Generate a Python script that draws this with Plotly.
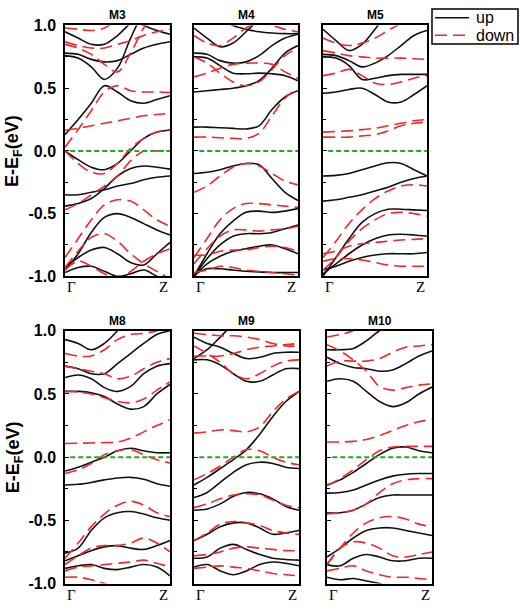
import plotly.graph_objects as go

# ---------------- data (energies in eV, sampled along Γ -> Z) ----------------
K_POINTS = [0, 0.125, 0.25, 0.375, 0.5, 0.625, 0.75, 0.875, 1.0]
PANEL_NAMES = ["M3", "M4", "M5", "M8", "M9", "M10"]
Y_TICKS = [1.0, 0.5, 0.0, -0.5, -1.0]
Y_TICK_TEXT = ["1.0", "0.5", "0.0", "-0.5", "-1.0"]
K_LABELS = ["Γ", "Z"]
LEGEND_NAMES = ["up", "down"]

M3_UP = [
    [0.13, 0.25, 0.38, 0.52, 0.47, 0.40, 0.38, 0.41, 0.44],
    [0.76, 0.74, 0.67, 0.57, 0.66, 0.90, 1.10, 1.20, 1.30],
    [0.78, 0.77, 0.73, 0.71, 0.72, 0.77, 0.82, 0.85, 0.87],
    [0.95, 0.90, 0.85, 0.85, 0.92, 1.02, 1.10, 1.10, 1.10],
    [1.20, 1.20, 1.20, 1.15, 1.10, 1.05, 1.00, 0.96, 0.93],
    [0.00, -0.07, -0.13, -0.15, -0.10, 0.00, 0.10, 0.15, 0.165],
    [-0.35, -0.35, -0.33, -0.31, -0.28, -0.26, -0.23, -0.21, -0.20],
    [-0.44, -0.42, -0.38, -0.30, -0.20, -0.14, -0.12, -0.13, -0.145],
    [-0.95, -0.82, -0.65, -0.53, -0.50, -0.53, -0.58, -0.63, -0.67],
    [-0.93, -0.85, -0.79, -0.77, -0.82, -0.89, -0.91, -0.82, -0.73],
    [-0.97, -0.93, -0.92, -0.96, -1.00, -0.98, -0.95, -1.00, -1.05],
]
M3_DOWN = [
    [0.165, 0.18, 0.20, 0.22, 0.24, 0.26, 0.28, 0.29, 0.30],
    [0.03, 0.17, 0.32, 0.47, 0.52, 0.48, 0.47, 0.47, 0.465],
    [0.85, 0.82, 0.77, 0.69, 0.63, 0.78, 0.98, 1.10, 1.20],
    [0.87, 0.84, 0.82, 0.82, 0.85, 0.88, 0.92, 0.95, 0.97],
    [0.98, 0.97, 0.96, 0.98, 1.05, 1.10, 1.10, 1.10, 1.10],
    [0.00, -0.10, -0.17, -0.18, -0.10, 0.02, 0.10, 0.15, 0.17],
    [-0.47, -0.42, -0.35, -0.28, -0.20, -0.08, 0.00, 0.00, 0.00],
    [-0.85, -0.70, -0.55, -0.43, -0.39, -0.40, -0.47, -0.55, -0.60],
    [-0.93, -0.80, -0.69, -0.66, -0.72, -0.82, -0.90, -0.96, -1.02],
    [-0.95, -0.88, -0.92, -0.98, -1.02, -0.96, -0.88, -0.82, -0.78],
]
M4_UP = [
    [0.19, 0.19, 0.185, 0.18, 0.175, 0.20, 0.33, 0.43, 0.48],
    [0.47, 0.48, 0.49, 0.50, 0.52, 0.56, 0.66, 0.78, 0.84],
    [0.75, 0.74, 0.68, 0.62, 0.615, 0.62, 0.615, 0.60, 0.56],
    [0.78, 0.77, 0.72, 0.70, 0.71, 0.76, 0.84, 0.90, 0.93],
    [0.98, 0.90, 0.83, 0.86, 0.95, 1.05, 1.15, 1.20, 1.20],
    [1.15, 1.10, 1.05, 1.00, 0.97, 0.95, 0.94, 0.935, 0.935],
    [-0.18, -0.17, -0.15, -0.12, -0.10, -0.11, -0.22, -0.33, -0.395],
    [-1.00, -0.82, -0.66, -0.56, -0.49, -0.48, -0.49, -0.48, -0.46],
    [-1.00, -0.86, -0.75, -0.68, -0.66, -0.66, -0.65, -0.62, -0.59],
    [-1.00, -0.90, -0.84, -0.80, -0.78, -0.76, -0.75, -0.78, -0.82],
    [-0.99, -0.94, -0.94, -0.95, -0.96, -0.965, -0.97, -0.97, -0.97],
]
M4_DOWN = [
    [0.11, 0.11, 0.105, 0.10, 0.10, 0.14, 0.28, 0.42, 0.50],
    [-0.33, -0.28, -0.20, -0.13, -0.10, -0.12, -0.18, -0.24, -0.27],
    [0.59, 0.62, 0.66, 0.69, 0.70, 0.70, 0.69, 0.63, 0.58],
    [0.75, 0.70, 0.62, 0.55, 0.52, 0.55, 0.65, 0.76, 0.82],
    [0.92, 0.86, 0.84, 0.90, 0.98, 1.02, 1.00, 0.97, 0.95],
    [-0.85, -0.70, -0.55, -0.46, -0.42, -0.42, -0.43, -0.44, -0.45],
    [-0.90, -0.78, -0.68, -0.63, -0.63, -0.64, -0.63, -0.62, -0.60],
    [-0.83, -0.83, -0.80, -0.79, -0.79, -0.77, -0.76, -0.77, -0.80],
    [-0.97, -0.95, -0.92, -0.93, -0.95, -0.96, -0.97, -0.98, -0.99],
]
M5_UP = [
    [-0.20, -0.195, -0.18, -0.15, -0.12, -0.095, -0.10, -0.15, -0.20],
    [-0.40, -0.39, -0.37, -0.35, -0.32, -0.29, -0.25, -0.22, -0.20],
    [-1.00, -0.85, -0.70, -0.57, -0.50, -0.465, -0.465, -0.47, -0.475],
    [-0.98, -0.90, -0.82, -0.75, -0.70, -0.67, -0.665, -0.67, -0.68],
    [-0.95, -0.92, -0.88, -0.85, -0.83, -0.82, -0.82, -0.82, -0.81],
    [0.46, 0.47, 0.49, 0.50, 0.45, 0.39, 0.39, 0.45, 0.52],
    [0.75, 0.74, 0.68, 0.57, 0.58, 0.60, 0.61, 0.61, 0.61],
    [0.77, 0.76, 0.72, 0.67, 0.70, 0.76, 0.84, 0.92, 0.96],
    [0.97, 0.88, 0.80, 0.85, 0.97, 1.10, 1.20, 1.20, 1.20],
]
M5_DOWN = [
    [0.15, 0.155, 0.16, 0.17, 0.18, 0.20, 0.22, 0.24, 0.25],
    [0.11, 0.11, 0.11, 0.12, 0.13, 0.16, 0.20, 0.22, 0.23],
    [0.60, 0.62, 0.65, 0.60, 0.54, 0.53, 0.55, 0.58, 0.60],
    [0.80, 0.78, 0.76, 0.75, 0.74, 0.74, 0.74, 0.735, 0.73],
    [0.90, 0.86, 0.84, 0.86, 0.90, 0.96, 1.02, 1.10, 1.15],
    [-0.85, -0.72, -0.58, -0.47, -0.38, -0.32, -0.28, -0.27, -0.28],
    [-0.95, -0.85, -0.72, -0.62, -0.55, -0.50, -0.49, -0.50, -0.52],
    [-0.82, -0.80, -0.76, -0.74, -0.73, -0.72, -0.71, -0.705, -0.70],
    [-0.88, -0.86, -0.86, -0.87, -0.89, -0.91, -0.92, -0.92, -0.92],
]
M8_UP = [
    [-0.11, -0.08, -0.04, 0.00, 0.05, 0.07, 0.05, 0.035, 0.035],
    [-0.22, -0.215, -0.20, -0.18, -0.165, -0.16, -0.175, -0.21, -0.23],
    [0.52, 0.52, 0.51, 0.48, 0.42, 0.38, 0.40, 0.50, 0.575],
    [0.63, 0.65, 0.62, 0.55, 0.52, 0.56, 0.66, 0.72, 0.74],
    [0.72, 0.70, 0.66, 0.66, 0.74, 0.82, 0.90, 0.97, 1.00],
    [0.93, 0.90, 0.85, 0.90, 1.00, 1.10, 1.10, 1.10, 1.10],
    [-0.76, -0.72, -0.58, -0.48, -0.44, -0.43, -0.45, -0.48, -0.50],
    [-0.82, -0.78, -0.74, -0.71, -0.70, -0.72, -0.73, -0.70, -0.66],
    [-0.88, -0.86, -0.85, -0.88, -0.89, -0.87, -0.85, -0.87, -0.94],
]
M8_DOWN = [
    [0.108, 0.11, 0.112, 0.115, 0.12, 0.15, 0.20, 0.25, 0.295],
    [-0.13, -0.10, -0.05, 0.02, 0.05, 0.06, 0.02, -0.02, -0.046],
    [0.52, 0.515, 0.50, 0.47, 0.44, 0.43, 0.46, 0.53, 0.595],
    [0.72, 0.70, 0.68, 0.66, 0.62, 0.64, 0.70, 0.75, 0.78],
    [0.82, 0.80, 0.80, 0.85, 0.93, 0.97, 0.98, 1.00, 1.05],
    [-0.80, -0.68, -0.55, -0.45, -0.38, -0.35, -0.38, -0.44, -0.47],
    [-0.85, -0.78, -0.72, -0.70, -0.70, -0.68, -0.64, -0.68, -0.75],
    [-0.90, -0.87, -0.86, -0.85, -0.84, -0.83, -0.815, -0.84, -0.87],
    [-0.95, -0.95, -0.97, -1.00, -1.05, -1.10, -1.10, -1.10, -1.10],
]
M9_UP = [
    [-0.22, -0.16, -0.09, -0.02, 0.06, 0.18, 0.32, 0.44, 0.52],
    [-0.32, -0.28, -0.20, -0.12, -0.06, -0.04, -0.05, -0.08, -0.09],
    [-0.42, -0.41, -0.37, -0.31, -0.28, -0.29, -0.33, -0.39, -0.42],
    [-0.66, -0.61, -0.55, -0.52, -0.52, -0.56, -0.61, -0.60, -0.58],
    [-0.80, -0.79, -0.72, -0.69, -0.73, -0.77, -0.80, -0.81, -0.815],
    [-0.87, -0.85, -0.90, -0.93, -0.90, -0.85, -0.83, -0.84, -0.86],
    [0.77, 0.77, 0.73, 0.66, 0.60, 0.60, 0.65, 0.70, 0.70],
    [0.95, 0.90, 0.87, 0.82, 0.78, 0.79, 0.82, 0.83, 0.83],
    [0.78, 0.85, 0.95, 1.05, 1.10, 1.10, 1.10, 1.10, 1.10],
]
M9_DOWN = [
    [0.19, 0.20, 0.215, 0.21, 0.20, 0.24, 0.36, 0.46, 0.52],
    [-0.18, -0.13, -0.07, 0.00, 0.06, 0.05, 0.00, -0.04, -0.06],
    [-0.40, -0.37, -0.33, -0.30, -0.29, -0.30, -0.34, -0.38, -0.40],
    [-0.66, -0.60, -0.53, -0.51, -0.52, -0.54, -0.58, -0.60, -0.61],
    [-0.78, -0.77, -0.75, -0.72, -0.71, -0.72, -0.73, -0.74, -0.74],
    [-0.88, -0.87, -0.86, -0.87, -0.88, -0.90, -0.92, -0.93, -0.94],
    [0.88, 0.82, 0.75, 0.66, 0.62, 0.66, 0.72, 0.76, 0.77],
    [0.80, 0.80, 0.80, 0.82, 0.85, 0.87, 0.88, 0.89, 0.90],
    [0.98, 0.97, 0.96, 0.96, 0.95, 0.93, 0.90, 0.88, 0.88],
]
M10_UP = [
    [-0.22, -0.18, -0.12, -0.05, 0.02, 0.07, 0.08, 0.05, 0.035],
    [-0.285, -0.28, -0.26, -0.22, -0.18, -0.15, -0.135, -0.13, -0.13],
    [-0.44, -0.44, -0.42, -0.37, -0.32, -0.30, -0.30, -0.30, -0.30],
    [-0.79, -0.72, -0.64, -0.58, -0.56, -0.56, -0.58, -0.60, -0.62],
    [-0.85, -0.86, -0.80, -0.77, -0.79, -0.82, -0.82, -0.80, -0.80],
    [-0.95, -0.97, -0.96, -0.98, -1.00, -1.05, -1.10, -1.10, -1.10],
    [0.60, 0.62, 0.60, 0.52, 0.44, 0.40, 0.43, 0.50, 0.555],
    [0.79, 0.74, 0.71, 0.70, 0.68, 0.69, 0.74, 0.80, 0.84],
    [0.85, 0.85, 0.86, 0.92, 1.00, 1.05, 1.10, 1.10, 1.10],
]
M10_DOWN = [
    [0.12, 0.12, 0.125, 0.14, 0.17, 0.21, 0.25, 0.28, 0.30],
    [-0.225, -0.17, -0.10, -0.02, 0.05, 0.08, 0.085, 0.085, 0.085],
    [-0.45, -0.44, -0.42, -0.37, -0.28, -0.21, -0.18, -0.17, -0.17],
    [-0.85, -0.72, -0.60, -0.52, -0.48, -0.47, -0.49, -0.53, -0.55],
    [-0.85, -0.72, -0.67, -0.68, -0.72, -0.78, -0.79, -0.77, -0.75],
    [-0.90, -0.88, -0.86, -0.90, -0.93, -0.95, -0.95, -0.96, -0.97],
    [0.89, 0.84, 0.77, 0.68, 0.56, 0.53, 0.55, 0.57, 0.58],
    [0.72, 0.76, 0.76, 0.76, 0.78, 0.83, 0.87, 0.88, 0.89],
    [0.95, 0.97, 1.00, 1.05, 1.10, 1.10, 1.10, 1.10, 1.10],
]

UP_BANDS = [M3_UP, M4_UP, M5_UP, M8_UP, M9_UP, M10_UP]
DOWN_BANDS = [M3_DOWN, M4_DOWN, M5_DOWN, M8_DOWN, M9_DOWN, M10_DOWN]

# ---------------- layout helpers ----------------
W, H = 520, 611
# panel pixel boxes (left, right, top, bottom)
BOXES = [
    (65, 170, 18, 276), (194, 298, 18, 276), (323, 427, 18, 276),
    (65, 170, 332, 592), (194, 299, 332, 592), (327, 432, 332, 592),
]
BLACK = "#111111"
RED = "#f02828"
GREEN = "#22a822"
SANS = "Arial, Liberation Sans, sans-serif"
SERIF = "Times New Roman, Liberation Serif, serif"
RED_DASH = "12px,6px"


def joined(bands):
    xs, ys = [], []
    for b in bands:
        xs += K_POINTS + [None]
        ys += b + [None]
    return xs, ys


def px_x(p):
    return p / W


def px_y(p):
    return 1 - p / H


fig = go.Figure()
annotations = []
shapes = []
for i, name in enumerate(PANEL_NAMES):
    ax = "" if i == 0 else str(i + 1)
    xref, yref = "x" + ax, "y" + ax
    xu, yu = joined(UP_BANDS[i])
    xd, yd = joined(DOWN_BANDS[i])
    fig.add_trace(go.Scatter(x=xu, y=yu, mode="lines", xaxis=xref, yaxis=yref,
                             line=dict(color=BLACK, width=1.6, shape="spline", smoothing=1.0),
                             name=LEGEND_NAMES[0], showlegend=False, connectgaps=False))
    fig.add_trace(go.Scatter(x=xd, y=yd, mode="lines", xaxis=xref, yaxis=yref,
                             line=dict(color=RED, width=1.6, shape="spline", smoothing=1.0,
                                       dash=RED_DASH),
                             name=LEGEND_NAMES[1], showlegend=False, connectgaps=False))
    fig.add_trace(go.Scatter(x=[0.05, 1], y=[0, 0], mode="lines", xaxis=xref, yaxis=yref,
                             line=dict(color=GREEN, width=2, dash="5px,3px"),
                             showlegend=False, hoverinfo="skip"))

    l, r, t, b = BOXES[i]
    first_col = i in (0, 3)
    fig.layout["xaxis" + ax] = dict(
        domain=[px_x(l), px_x(r)], range=[0, 1], showgrid=False, zeroline=False,
        showline=True, linecolor="black", linewidth=1.5, mirror=True,
        showticklabels=False, ticks="", anchor=yref,
    )
    fig.layout["yaxis" + ax] = dict(
        domain=[px_y(b), px_y(t)], range=[-1, 1], showgrid=False, zeroline=False,
        showline=True, linecolor="black", linewidth=1.5, mirror=True,
        tickvals=Y_TICKS, ticktext=Y_TICK_TEXT, ticks="inside", ticklen=4,
        tickcolor="black", tickwidth=1,
        minor=dict(ticks="inside", tickvals=[0.75, 0.25, -0.25, -0.75], ticklen=3,
                   tickcolor="black", tickwidth=1),
        showticklabels=first_col, ticklabelstandoff=4,
        tickfont=dict(family=SANS, size=16, color="black", weight="bold"),
        anchor=xref,
    )
    # panel title
    annotations.append(dict(text=name, xref=xref + " domain", yref=yref + " domain",
                            x=0.5, y=1, yanchor="bottom", yshift=1, showarrow=False,
                            font=dict(family=SANS, size=12, color="black", weight="bold")))
    # k-point labels
    annotations.append(dict(text=K_LABELS[0], xref=xref + " domain", yref=yref + " domain",
                            x=0, y=0, xanchor="left", yanchor="middle", yshift=-11,
                            showarrow=False,
                            font=dict(family=SERIF, size=15, color="black")))
    annotations.append(dict(text=K_LABELS[1], xref=xref + " domain", yref=yref + " domain",
                            x=1, y=0, xanchor="right", yanchor="middle", yshift=-11,
                            showarrow=False,
                            font=dict(family=SERIF, size=15, color="black")))
    if first_col:
        annotations.append(dict(text="E-E<sub>F</sub>(eV)", xref="paper", yref="paper",
                                x=px_x(14), y=px_y((t + b) / 2), textangle=-90,
                                xanchor="center", yanchor="middle", showarrow=False,
                                font=dict(family=SANS, size=18, color="black", weight="bold")))

# legend box (top right)
shapes.append(dict(type="rect", xref="paper", yref="paper",
                   x0=px_x(432), x1=px_x(518), y0=px_y(37), y1=px_y(1),
                   line=dict(color="black", width=1.5), fillcolor="white"))
shapes.append(dict(type="line", xref="paper", yref="paper",
                   x0=px_x(435), x1=px_x(469), y0=px_y(10), y1=px_y(10),
                   line=dict(color=BLACK, width=1.6)))
shapes.append(dict(type="line", xref="paper", yref="paper",
                   x0=px_x(435), x1=px_x(469), y0=px_y(28), y1=px_y(28),
                   line=dict(color=RED, width=1.6, dash=RED_DASH)))
for name, yy in zip(LEGEND_NAMES, [10, 28]):
    annotations.append(dict(text=name, xref="paper", yref="paper",
                            x=px_x(474), y=px_y(yy), xanchor="left", yanchor="middle",
                            showarrow=False,
                            font=dict(family=SANS, size=16, color="black")))

fig.update_layout(
    width=W, height=H, margin=dict(l=0, r=0, t=0, b=0),
    paper_bgcolor="white", plot_bgcolor="white",
    annotations=annotations, shapes=shapes,
    showlegend=False,
)

fig.write_html("out.html", config={"displayModeBar": False},
               post_script="document.body.style.margin='0';document.body.style.padding='0';")
